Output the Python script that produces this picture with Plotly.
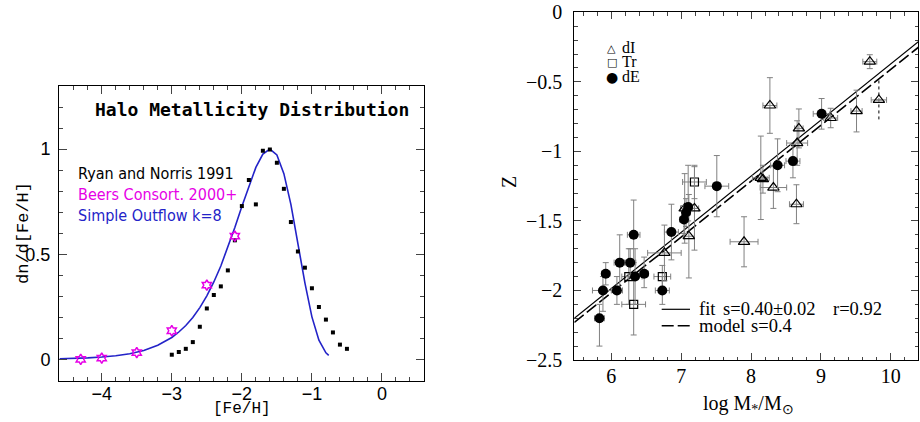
import plotly.graph_objects as go

W, H = 920, 422
def px(x): return x / W
def py(y): return 1 - y / H

# ---------------- Left panel data ----------------
rn_feh = [-3.0, -2.9, -2.8, -2.7, -2.6, -2.5, -2.4, -2.3, -2.2, -2.1, -2.0, -1.9, -1.8,
          -1.7, -1.6, -1.5, -1.4, -1.3, -1.2, -1.1, -1.0, -0.9, -0.8, -0.7, -0.6, -0.5]
rn_val = [0.022, 0.035, 0.050, 0.082, 0.155, 0.242, 0.306, 0.347, 0.423, 0.566, 0.729, 0.853, 0.737,
          0.992, 0.998, 0.935, 0.811, 0.653, 0.513, 0.436, 0.338, 0.249, 0.189, 0.128, 0.070, 0.050]

beers_feh = [-4.3, -4.0, -3.5, -3.0, -2.5, -2.1]
beers_val = [0.0, 0.006, 0.032, 0.136, 0.353, 0.586]

outflow_feh = [-4.6, -4.4, -4.2, -4.0, -3.8, -3.6, -3.4, -3.2, -3.0, -2.9, -2.8, -2.7, -2.6,
               -2.5, -2.4, -2.3, -2.2, -2.1, -2.0, -1.9, -1.8, -1.7, -1.6, -1.5, -1.4, -1.3,
               -1.2, -1.1, -1.0, -0.9, -0.8, -0.76]
outflow_val = [0.003, 0.004, 0.007, 0.011, 0.017, 0.027, 0.042, 0.067, 0.104, 0.130, 0.161, 0.199, 0.246,
               0.302, 0.368, 0.444, 0.531, 0.627, 0.727, 0.825, 0.913, 0.976, 1.000, 0.972, 0.883, 0.737,
               0.554, 0.364, 0.202, 0.091, 0.031, 0.019]

# ---------------- Right panel data ----------------
dE_logm = [5.83, 5.88, 5.92, 6.08, 6.12, 6.27, 6.32, 6.34, 6.47, 6.73, 6.86, 7.04, 7.07, 7.10, 7.51, 8.38, 8.60, 9.01]
dE_z = [-2.20, -2.00, -1.88, -2.00, -1.80, -1.80, -1.60, -1.90, -1.88, -2.00, -1.58, -1.49, -1.44, -1.40, -1.25, -1.10, -1.07, -0.73]
dE_zerr_up = [0.10, 0.10, 0.08, 0.10, 0.20, 0.10, 0.25, 0.20, 0.12, 0.10, 0.20, 0.10, 0.10, 0.30, 0.22, 0.19, 0.12, 0.11]
dE_zerr_dn = [0.20, 0.15, 0.08, 0.10, 0.20, 0.10, 0.20, 0.20, 0.10, 0.10, 0.20, 0.10, 0.10, 0.10, 0.22, 0.19, 0.12, 0.11]
dE_merr = [0.07, 0.15, 0.06, 0.08, 0.08, 0.08, 0.09, 0.10, 0.06, 0.10, 0.10, 0.06, 0.06, 0.06, 0.17, 0.10, 0.10, 0.12]

dI_logm = [6.76, 7.05, 7.11, 7.19, 7.90, 8.14, 8.17, 8.27, 8.32, 8.65, 8.66, 8.685, 9.14, 9.51, 9.70, 9.83]
dI_z = [-1.73, -1.41, -1.61, -1.41, -1.65, -1.19, -1.20, -0.67, -1.26, -1.38, -0.94, -0.835, -0.76, -0.71, -0.355, -0.63]
dI_zerr = [0.20, 0.25, 0.30, 0.30, 0.18, 0.30, 0.10, 0.20, 0.15, 0.14, 0.16, 0.14, 0.07, 0.15, 0.05, 0.0]
dI_merr = [0.24, 0.06, 0.08, 0.06, 0.20, 0.12, 0.06, 0.10, 0.19, 0.10, 0.15, 0.06, 0.10, 0.08, 0.10, 0.11]

Tr_logm = [6.25, 6.32, 6.73, 7.19]
Tr_z = [-1.90, -2.10, -1.90, -1.22]
Tr_zerr = [0.20, 0.22, 0.08, 0.12]
Tr_merr = [0.10, 0.17, 0.12, 0.17]

fit_logm = [5.47, 10.4]
fit_z = [-2.20, -0.21]
model_z = [-2.23, -0.25]

upper_logm = [9.83, 9.83]
upper_z = [-0.49, -0.77]

ERR = "#808080"
BLUE = "#2323c8"
MAGENTA = "#e600e6"

fig = go.Figure()

fig.add_trace(go.Scatter(x=outflow_feh, y=outflow_val, mode="lines",
                         line=dict(color=BLUE, width=1.6), xaxis="x", yaxis="y", showlegend=False))
fig.add_trace(go.Scatter(x=rn_feh, y=rn_val, mode="markers",
                         marker=dict(symbol="square", size=4, color="black"), xaxis="x", yaxis="y", showlegend=False))
fig.add_trace(go.Scatter(x=beers_feh, y=beers_val, mode="markers",
                         marker=dict(symbol="hexagram-open", size=8, color=MAGENTA, line=dict(width=1.5)),
                         xaxis="x", yaxis="y", showlegend=False))

fig.add_trace(go.Scatter(x=fit_logm, y=fit_z, mode="lines", line=dict(color="black", width=1.2),
                         xaxis="x2", yaxis="y2", showlegend=False))
fig.add_trace(go.Scatter(x=fit_logm, y=model_z, mode="lines", line=dict(color="black", width=1.6, dash="12px,4px"),
                         xaxis="x2", yaxis="y2", showlegend=False))
fig.add_trace(go.Scatter(x=upper_logm, y=upper_z, mode="lines", line=dict(color="black", width=1, dash="dot"),
                         xaxis="x2", yaxis="y2", showlegend=False))
fig.add_trace(go.Scatter(x=Tr_logm, y=Tr_z, mode="markers",
                         marker=dict(symbol="square-open", size=8, color="black", line=dict(width=1.2)),
                         error_y=dict(type="data", array=Tr_zerr, color=ERR, thickness=1, width=3),
                         error_x=dict(type="data", array=Tr_merr, color=ERR, thickness=1, width=3),
                         xaxis="x2", yaxis="y2", showlegend=False))
fig.add_trace(go.Scatter(x=dI_logm, y=dI_z, mode="markers",
                         marker=dict(symbol="triangle-up-open", size=10, color="black", line=dict(width=1.2)),
                         error_y=dict(type="data", array=dI_zerr, color=ERR, thickness=1, width=3),
                         error_x=dict(type="data", array=dI_merr, color=ERR, thickness=1, width=3),
                         xaxis="x2", yaxis="y2", showlegend=False))
fig.add_trace(go.Scatter(x=dE_logm, y=dE_z, mode="markers",
                         marker=dict(symbol="circle", size=10, color="black"),
                         error_y=dict(type="data", array=dE_zerr_up, arrayminus=dE_zerr_dn, color=ERR, thickness=1, width=3),
                         error_x=dict(type="data", array=dE_merr, color=ERR, thickness=1, width=3),
                         xaxis="x2", yaxis="y2", showlegend=False))

sans = dict(family="Liberation Sans, Arial, sans-serif", size=18, color="black")
serif = dict(family="Liberation Serif, Times New Roman, serif", size=20, color="black")

fig.update_layout(
    width=W, height=H, margin=dict(l=0, r=0, t=0, b=0, pad=0), autosize=False,
    paper_bgcolor="white", plot_bgcolor="white",
    xaxis=dict(domain=[px(59), px(424)], range=[-4.61, 0.6], anchor="y", dtick=1, ticklen=8,
               showline=True, linecolor="black", mirror="allticks", ticks="inside", automargin=False,
               tickfont=sans, showgrid=False, zeroline=False, ticklabelstandoff=-4,
               minor=dict(dtick=0.2, ticklen=4, ticks="inside")),
    yaxis=dict(domain=[py(381), py(86)], range=[-0.103, 1.30], anchor="x", dtick=0.5, ticklen=8,
               showline=True, linecolor="black", mirror="allticks", ticks="inside", automargin=False,
               tickfont=sans, showgrid=False, zeroline=False, ticklabelstandoff=4,
               minor=dict(dtick=0.1, ticklen=4, ticks="inside")),
    xaxis2=dict(domain=[px(574.3), px(918)], range=[5.47, 10.39], anchor="y2", dtick=1, ticklen=7,
                showline=True, linecolor="black", mirror="allticks", ticks="inside", automargin=False,
                tickfont=serif, showgrid=False, zeroline=False, ticklabelstandoff=-2,
                minor=dict(dtick=0.2, ticklen=3.5, ticks="inside")),
    yaxis2=dict(domain=[py(360), py(12.3)], range=[-2.5, 0], anchor="x2", dtick=0.5, ticklen=7,
                showline=True, linecolor="black", mirror="allticks", ticks="inside", automargin=False,
                tickfont=serif, showgrid=False, zeroline=False, ticklabelstandoff=7,
                minor=dict(dtick=0.1, ticklen=3.5, ticks="inside")),
)

ann = []
def A(text, x, y, font, xanchor="center", yanchor="middle", angle=0):
    ann.append(dict(text=text, x=px(x), y=py(y), xref="paper", yref="paper", showarrow=False,
                    xanchor=xanchor, yanchor=yanchor, textangle=angle, font=font))

mono = "Liberation Mono, Courier New, monospace"
A("<b>Halo Metallicity Distribution</b>", 252, 109, dict(family="DejaVu Sans Mono, monospace", size=18, color="black"))
cond = "DejaVu Sans Condensed, Liberation Sans, sans-serif"
A("Ryan and Norris 1991", 76, 173, dict(family=cond, size=16, color="black"), xanchor="left")
A("Beers Consort. 2000+", 76, 194.5, dict(family=cond, size=16, color=MAGENTA), xanchor="left")
A("Simple Outflow k=8", 76, 215.5, dict(family=cond, size=16, color=BLUE), xanchor="left")
A("dn/d[Fe/H]", 23, 233, dict(family=mono, size=17, color="black"), angle=-90)
A("[Fe/H]", 241.7, 409, dict(family=mono, size=16, color="black"))

A("Z", 509, 182, serif, angle=-90)
A("log M<sub>*</sub>/M<sub>⊙</sub>", 748, 404, serif)
lf = dict(family="Liberation Serif, serif", size=16, color="black")
A("△", 611.7, 48.3, dict(family="DejaVu Sans", size=11, color="black"))
A("□", 611.7, 62.7, dict(family="DejaVu Sans", size=11, color="black"))
A("●", 611.7, 77.3, dict(family="DejaVu Sans", size=14, color="black"))
A("dI", 619.5, 47.5, lf, xanchor="left")
A("Tr", 619.5, 62.0, lf, xanchor="left")
A("dE", 619.5, 76.5, lf, xanchor="left")
lf2 = dict(family="Liberation Serif, serif", size=18.5, color="black")
A("fit", 697, 309, lf2, xanchor="left")
A("s=0.40±0.02", 721, 309, lf2, xanchor="left")
A("r=0.92", 831, 309, lf2, xanchor="left")
A("model", 697, 325.5, lf2, xanchor="left")
A("s=0.4", 749, 325.5, lf2, xanchor="left")
fig.update_layout(annotations=ann)

fig.update_layout(shapes=[
    dict(type="line", xref="paper", yref="paper", x0=px(661.7), x1=px(690), y0=py(309.3), y1=py(309.3),
         line=dict(color="black", width=1.2)),
    dict(type="line", xref="paper", yref="paper", x0=px(661.7), x1=px(690), y0=py(325.7), y1=py(325.7),
         line=dict(color="black", width=1.6, dash="12px,4px")),
])

fig.write_html("out.html", config={"displayModeBar": False},
               post_script="document.body.style.margin='0px';")
